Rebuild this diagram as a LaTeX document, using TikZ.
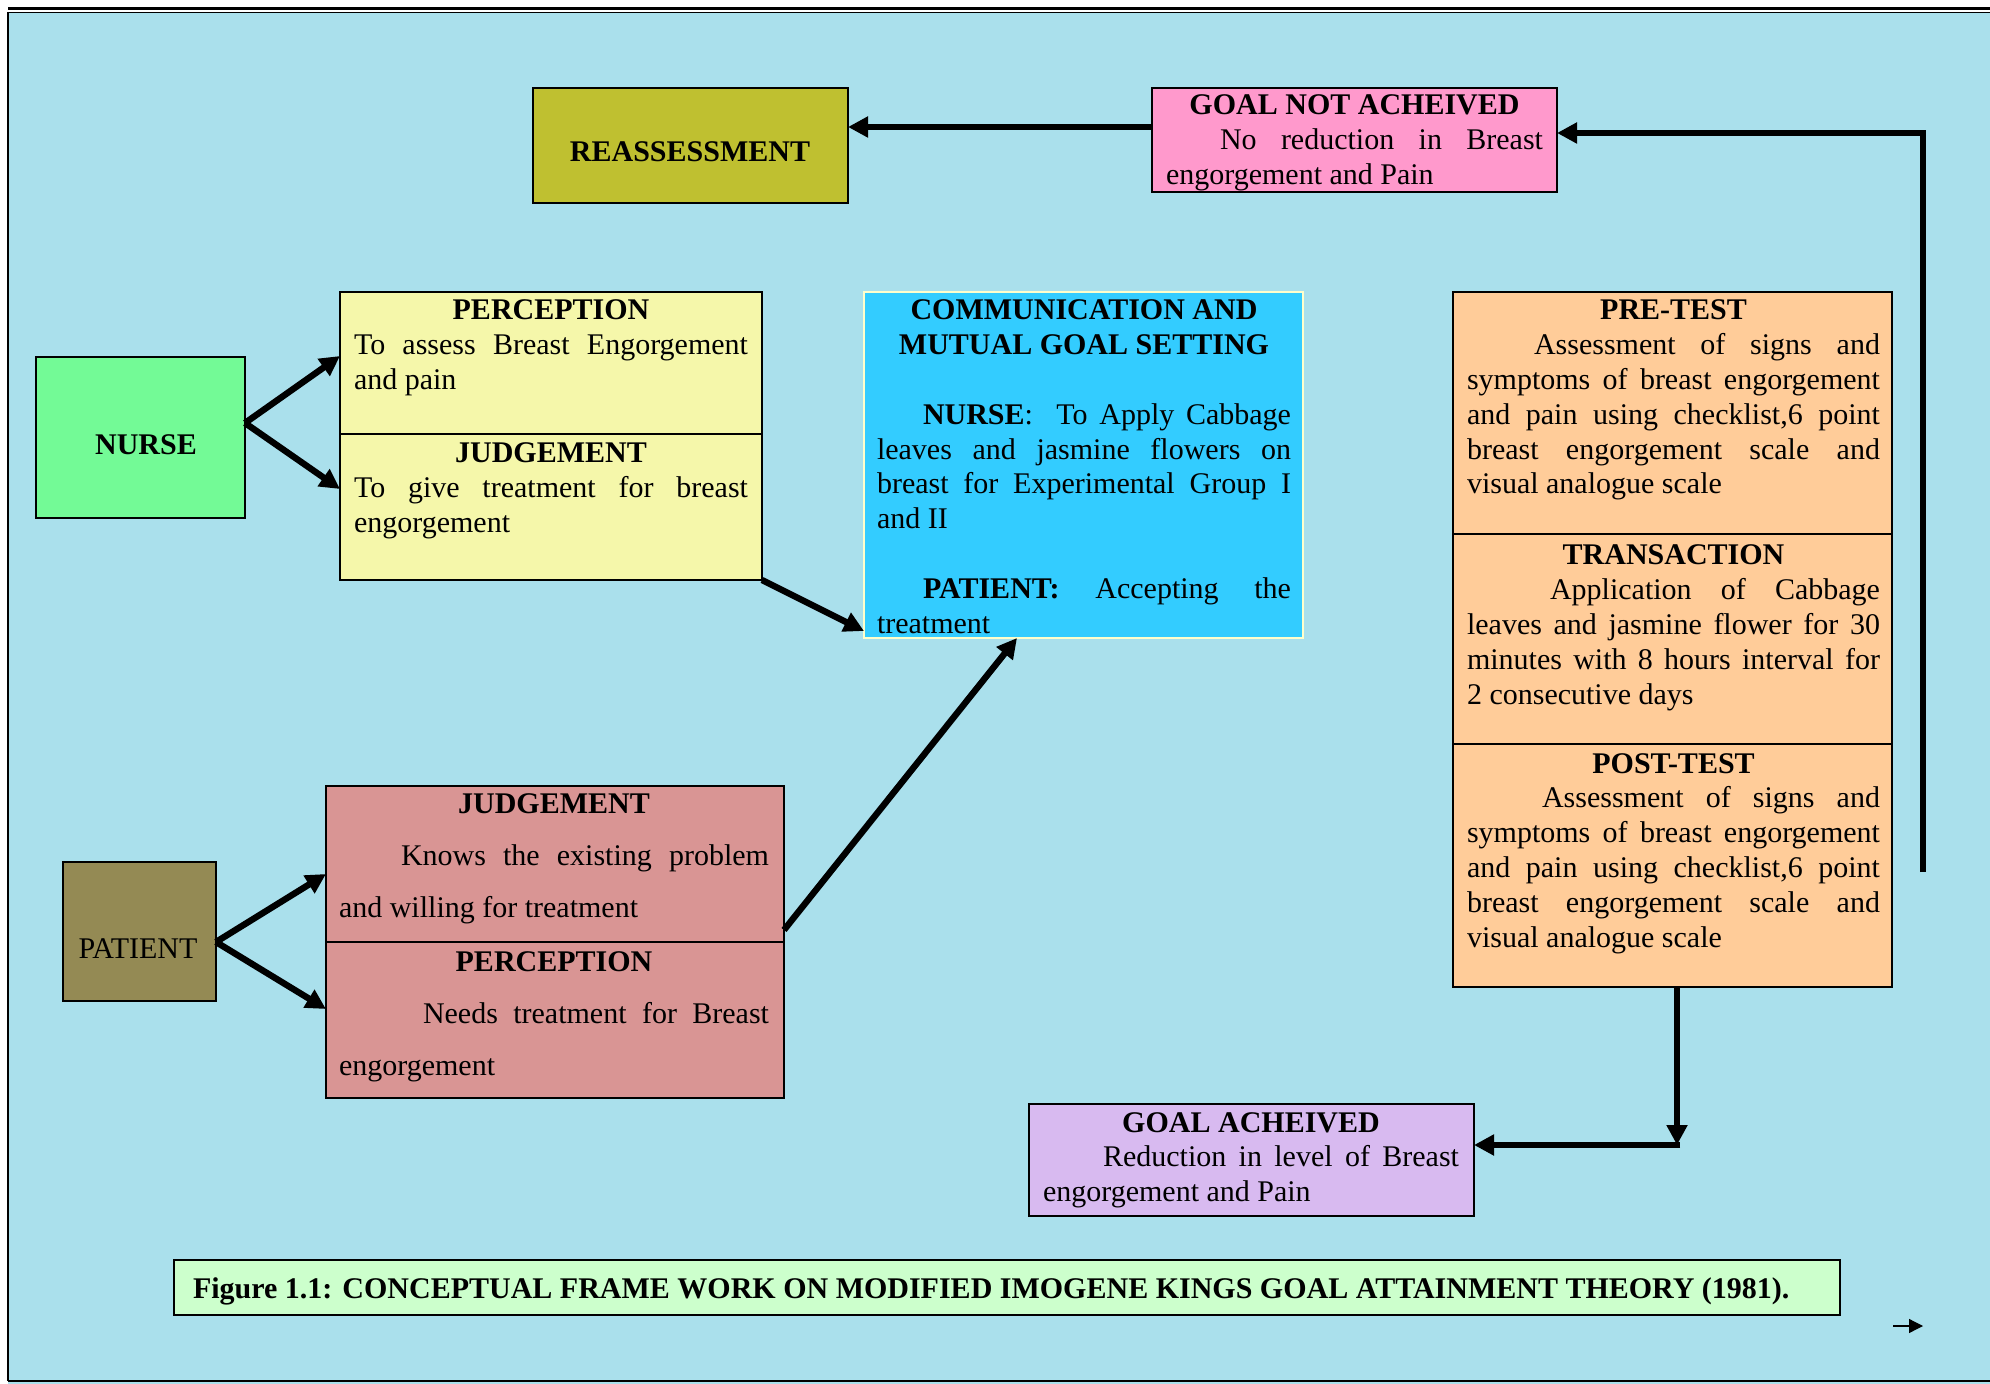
\documentclass[tikz,border=0pt]{standalone}
\usepackage{fontspec}
\setmainfont{Liberation Serif}
\usetikzlibrary{arrows.meta,calc}
\definecolor{bgc}{RGB}{170,224,236}
\definecolor{reassc}{RGB}{191,192,48}
\definecolor{gnotc}{RGB}{255,153,204}
\definecolor{nursec}{RGB}{115,250,150}
\definecolor{nboxc}{RGB}{245,247,170}
\definecolor{commc}{RGB}{51,204,255}
\definecolor{commb}{RGB}{255,255,204}
\definecolor{testc}{RGB}{255,204,153}
\definecolor{gachc}{RGB}{216,186,240}
\definecolor{pboxc}{RGB}{217,149,148}
\definecolor{patc}{RGB}{148,138,84}
\definecolor{capc}{RGB}{204,255,204}
\newcommand\mybody[3]{\begin{minipage}[t]{#1}\fontsize{15}{#2}\selectfont\hyphenpenalty=10000\relax #3\end{minipage}}
\newcommand\myhead[1]{{\centering\textbf{#1}\par}}
\begin{document}
\begin{tikzpicture}[x=0.5pt,y=-0.5pt,
  box/.style={draw=black,line width=1.3pt,anchor=north west,inner sep=0pt,outer sep=0pt},
  lbl/.style={inner sep=0pt,outer sep=0pt,font=\fontsize{15}{17.4}\selectfont},
  para/.style={inner sep=0pt,outer sep=0pt,anchor=base west},
  arr/.style={line width=3.2pt,-{Triangle[length=10pt,width=10pt]}},
  thinarr/.style={line width=0.6pt,-{Triangle[length=7pt,width=7pt]}}]
\useasboundingbox (0,0) rectangle (1990,1384);
\fill[white] (0,0) rectangle (1990,1384);
\fill[bgc] (8,12) rectangle (1990,1384);
\draw[line width=1.3pt] (8,8.5) -- (1990,8.5);
\draw[line width=0.9pt] (8,12.5) -- (1990,12.5);
\draw[line width=1.2pt] (7.8,12) -- (7.8,1381);
\draw[line width=1pt] (7.8,1381) -- (1990,1381);

% boxes
\node[box,fill=reassc,minimum width=157.5pt,minimum height=57.5pt] (reass) at (533,88) {};
\node[box,fill=gnotc,minimum width=202.5pt,minimum height=52pt] (gnot) at (1152,88) {};
\node[box,fill=nursec,minimum width=104.5pt,minimum height=80.5pt] (nurse) at (36,357) {};
\node[box,fill=nboxc,minimum width=211pt,minimum height=71pt] (nperc) at (340,292) {};
\node[box,fill=nboxc,minimum width=211pt,minimum height=73pt] (njudg) at (340,434) {};
\node[box,draw=commb,fill=commc,minimum width=219.5pt,minimum height=173pt] (comm) at (864,292) {};
\node[box,fill=testc,minimum width=219.5pt,minimum height=121pt] (pre) at (1453,292) {};
\node[box,fill=testc,minimum width=219.5pt,minimum height=105pt] (trans) at (1453,534) {};
\node[box,fill=testc,minimum width=219.5pt,minimum height=121.5pt] (post) at (1453,744) {};
\node[box,fill=gachc,minimum width=222.5pt,minimum height=56pt] (gach) at (1029,1104) {};
\node[box,fill=pboxc,minimum width=229pt,minimum height=78pt] (pjudg) at (326,786) {};
\node[box,fill=pboxc,minimum width=229pt,minimum height=78pt] (pperc) at (326,942) {};
\node[box,fill=patc,minimum width=76.5pt,minimum height=69.5pt] (patient) at (63,862) {};
\node[box,fill=capc,minimum width=833pt,minimum height=27.5pt] (cap) at (174,1260) {};

% texts
\node[lbl] (reass-t) at (690,152) {\textbf{REASSESSMENT}};
\node[lbl] (nurse-t) at (146,445) {\textbf{NURSE}};
\node[lbl] (patient-t) at (138,949) {PATIENT};
\node[para] (gnot-t) at (1166,115) {\mybody{188.5pt}{17.4}{\myhead{GOAL NOT ACHEIVED}
\hspace*{27pt}No reduction in Breast\linebreak engorgement and Pain}};
\node[para] (nperc-t) at (354,320) {\mybody{197pt}{17.4}{\myhead{PERCEPTION}
To assess Breast Engorgement\linebreak and pain}};
\node[para] (njudg-t) at (354,463) {\mybody{197pt}{17.4}{\myhead{JUDGEMENT}
To give treatment for breast\linebreak engorgement}};
\node[para] (comm-t) at (877,320) {\mybody{207pt}{17.4}{\myhead{COMMUNICATION AND}\myhead{MUTUAL GOAL SETTING}
\mbox{}\par
\hspace*{23pt}\textbf{NURSE}:\ \ To Apply Cabbage\linebreak leaves and jasmine flowers on\linebreak breast for Experimental Group I\linebreak and II\par
\mbox{}\par
\hspace*{23pt}\textbf{PATIENT:} Accepting the\linebreak treatment}};
\node[para] (pre-t) at (1467,320) {\mybody{206.5pt}{17.4}{\myhead{PRE-TEST}
\hspace*{33.5pt}Assessment of signs and\linebreak symptoms of breast engorgement\linebreak and pain using checklist,6 point\linebreak breast engorgement scale and\linebreak visual analogue scale}};
\node[para] (trans-t) at (1467,565) {\mybody{206.5pt}{17.4}{\myhead{TRANSACTION}
\hspace*{41.5pt}Application of Cabbage\linebreak leaves and jasmine flower for 30\linebreak minutes with 8 hours interval for\linebreak 2 consecutive days}};
\node[para] (post-t) at (1467,773) {\mybody{206.5pt}{17.4}{\myhead{POST-TEST}
\hspace*{37.5pt}Assessment of signs and\linebreak symptoms of breast engorgement\linebreak and pain using checklist,6 point\linebreak breast engorgement scale and\linebreak visual analogue scale}};
\node[para] (gach-t) at (1043,1132) {\mybody{208pt}{17.4}{\myhead{GOAL ACHEIVED}
\hspace*{30pt}Reduction in level of Breast\linebreak engorgement and Pain}};
\node[para] (pjudg-t) at (339,813) {\mybody{215pt}{26}{\myhead{JUDGEMENT}
\hspace*{31pt}Knows the existing problem\linebreak and willing for treatment}};
\node[para] (pperc-t) at (339,971) {\mybody{215pt}{26}{\myhead{PERCEPTION}
\hspace*{42pt}Needs treatment for Breast\linebreak engorgement}};
\node[lbl,anchor=base west] (cap-t) at (193,1298) {\textbf{Figure 1.1: CONCEPTUAL FRAME WORK ON MODIFIED IMOGENE KINGS GOAL ATTAINMENT THEORY (1981).}};

% connectors
\coordinate (p1) at ([yshift=6.5pt]gnot.west);
\draw[arr] (p1) -- (p1 -| reass.east);
\coordinate (loopstart) at (1923,872);
\draw[arr] (loopstart) |- ([yshift=3.5pt]gnot.east);
\draw[arr] ([yshift=7.25pt]nurse.east) -- ([yshift=3.5pt]nperc.west);
\draw[arr] ([yshift=7.25pt]nurse.east) -- ([yshift=9pt]njudg.west);
\draw[arr] (njudg.south east) -- ([yshift=3.5pt]comm.south west);
\draw[arr] ([yshift=-5.25pt]patient.east) -- ([yshift=-5pt]pjudg.west);
\draw[arr] ([yshift=-5.25pt]patient.east) -- ([yshift=5.5pt]pperc.west);
\draw[arr] ([yshift=6pt]pjudg.south east) -- ([xshift=-33.25pt]comm.south);
\coordinate (corner) at (1677,1145);
\draw[arr] ([xshift=2.25pt]post.south) -- (corner);
\draw[arr] ([xshift=1.6pt]corner) -- (corner -| gach.east);
\coordinate (sa1) at (1893,1326);
\coordinate (sa2) at (1923,1326);
\draw[thinarr] (sa1) -- (sa2);
\end{tikzpicture}
\end{document}
